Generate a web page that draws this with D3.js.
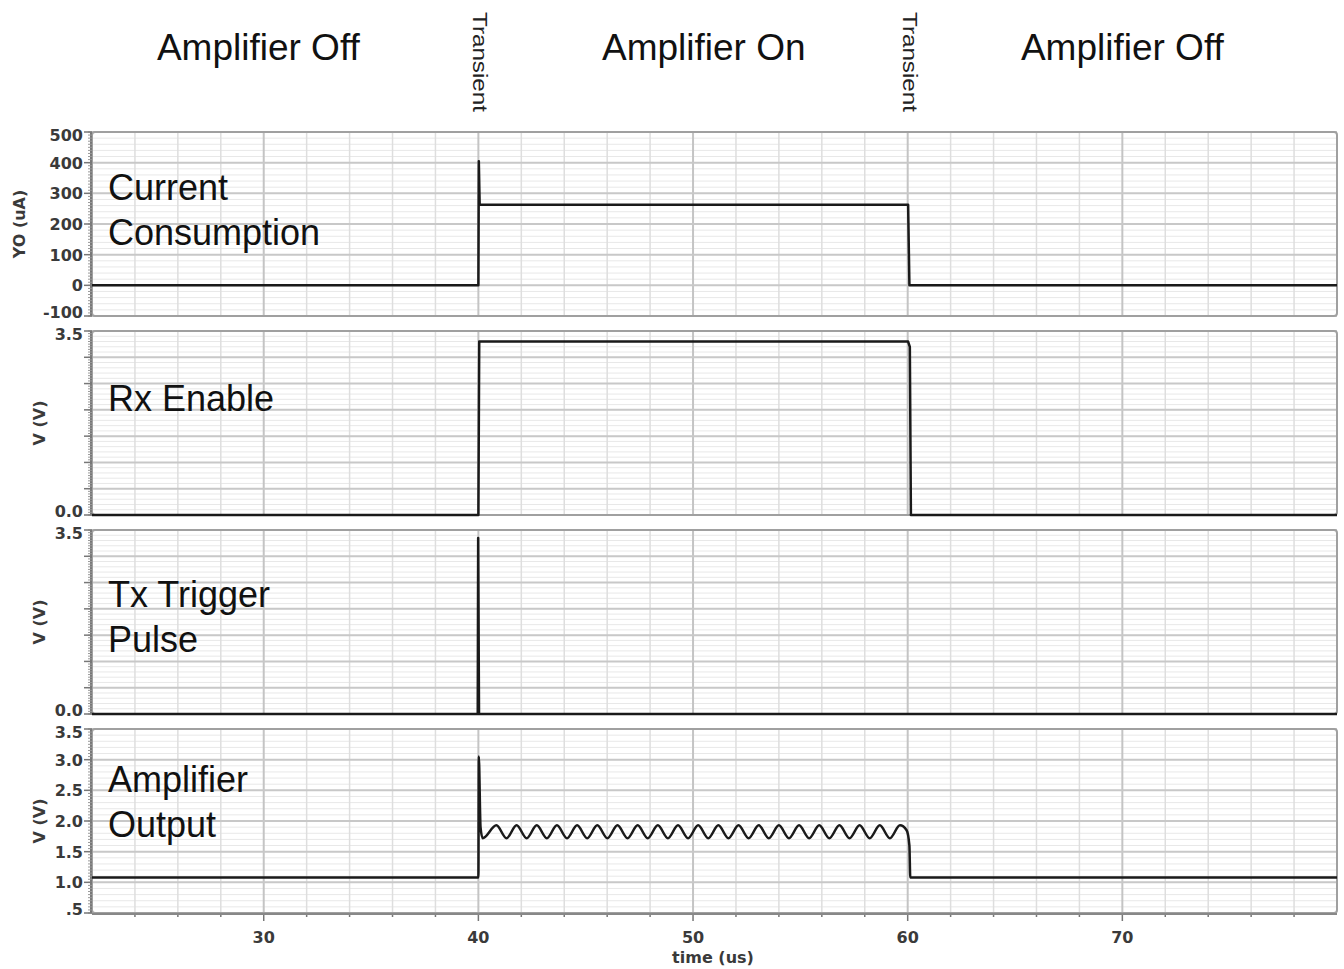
<!DOCTYPE html>
<html>
<head>
<script src="https://d3js.org/d3.v7.min.js"></script>
<style>
  body { margin: 0; background: #fff; }
  text { font-family: "Liberation Sans", Arial, sans-serif; }
  .tick-label { font-family: "DejaVu Sans", sans-serif; font-weight: bold; font-size: 16px; fill: #3a3a3a; }
</style>
</head>
<body>
<svg id="plot" width="1344" height="969"></svg>
<script>
// ---- data ----
const regionLabels = ["Amplifier Off", "Amplifier On", "Amplifier Off"];
const regionCenters = [29.75, 50.5, 70];       // time (us) where each label is centred
const transientTimes = [40, 60];
const xTicks = [30, 40, 50, 60, 70];

// current consumption (uA)
const currentData = [[22, 0], [40, 0], [40.02, 405], [40.06, 263], [60.02, 263], [60.08, 0], [80, 0]];
// Rx enable (V)
const rxData = [[22, 0], [40, 0], [40.04, 3.3], [60.02, 3.3], [60.1, 3.2], [60.15, 0], [80, 0]];
// Tx trigger pulse (V)
const txData = [[22, 0], [39.97, 0], [39.99, 3.35], [40.03, 0], [80, 0]];
// amplifier output (V)
const ampData = [
  [22, 1.08], [40.0, 1.08], [40.02, 3.05], [40.1, 1.9], [40.2, 1.72],
  [40.84, 1.93], [41.31, 1.72], [41.78, 1.93], [42.25, 1.72], [42.72, 1.93], [43.19, 1.72],
  [43.66, 1.93], [44.13, 1.72], [44.60, 1.93], [45.07, 1.72], [45.54, 1.93], [46.01, 1.72],
  [46.48, 1.93], [46.95, 1.72], [47.42, 1.93], [47.89, 1.72], [48.36, 1.93], [48.83, 1.72],
  [49.30, 1.93], [49.77, 1.72], [50.24, 1.93], [50.71, 1.72], [51.18, 1.93], [51.65, 1.72],
  [52.12, 1.93], [52.59, 1.72], [53.06, 1.93], [53.53, 1.72], [54.00, 1.93], [54.47, 1.72],
  [54.94, 1.93], [55.41, 1.72], [55.88, 1.93], [56.35, 1.72], [56.82, 1.93], [57.29, 1.72],
  [57.76, 1.93], [58.23, 1.72], [58.70, 1.93], [59.17, 1.72], [59.64, 1.93], [59.95, 1.85],
  [60.08, 1.6], [60.12, 1.08], [80, 1.08]
];

const panelLabels = [["Current", "Consumption"], ["Rx Enable"], ["Tx Trigger", "Pulse"], ["Amplifier", "Output"]];
const yTitles = ["YO (uA)", "V (V)", "V (V)", "V (V)"];
const yDomains = [[-100, 500], [0, 3.5], [0, 3.5], [0.5, 3.5]];
const yTickValues = [[-100, 0, 100, 200, 300, 400, 500], [0, 3.5], [0, 3.5], [0.5, 1, 1.5, 2, 2.5, 3, 3.5]];
const yTickText = [["-100", "0", "100", "200", "300", "400", "500"], ["0.0", "3.5"], ["0.0", "3.5"], [".5", "1.0", "1.5", "2.0", "2.5", "3.0", "3.5"]];
const yMajorStep = [100, 0.5, 0.5, 0.5];
const yMinorStep = [20, 0.1, 0.1, 0.1];
const series = [currentData, rxData, txData, ampData];

// ---- layout ----
const svg = d3.select('svg#plot');
const left = 92, right = 1337;
const panelTop = [132, 331, 530, 729];
const panelH = 184;

const x = d3.scaleLinear().domain([22, 80]).range([left, right]);

// top region labels
regionLabels.forEach((d, i) => {
  svg.append("text")
    .attr("x", x(regionCenters[i]))
    .attr("y", 60)
    .attr("text-anchor", "middle")
    .attr("font-size", "37px")
    .attr("fill", "#111")
    .text(d);
});
// transient labels (rotated)
transientTimes.forEach(t => {
  const tx = x(t) - 5;
  svg.append("text")
    .attr("transform", `translate(${tx},12) rotate(90)`)
    .attr("font-size", "21px")
    .attr("textLength", 100)
    .attr("lengthAdjust", "spacingAndGlyphs")
    .attr("fill", "#222")
    .text("Transient");
});

series.forEach((data, p) => {
  const top = panelTop[p], bottom = top + panelH;
  const y = d3.scaleLinear().domain(yDomains[p]).range([bottom, top]);
  const g = svg.append("g");

  // minor grid
  const minor = d3.range(yDomains[p][0], yDomains[p][1] + 1e-9, yMinorStep[p]);
  g.selectAll(".hminor").data(minor).join("line")
    .attr("x1", left).attr("x2", right)
    .attr("y1", d => y(d)).attr("y2", d => y(d))
    .attr("stroke", "#e8e8e8").attr("stroke-width", 1);
  const vminor = d3.range(24, 80, 2);
  g.selectAll(".vminor").data(vminor).join("line")
    .attr("x1", d => x(d)).attr("x2", d => x(d))
    .attr("y1", top).attr("y2", bottom)
    .attr("stroke", d => d % 10 === 0 ? "#c4c4c4" : "#dedede")
    .attr("stroke-width", d => d % 10 === 0 ? 2 : 1.5);
  // major horizontal grid
  const major = d3.range(yDomains[p][0], yDomains[p][1] + 1e-9, yMajorStep[p]);
  g.selectAll(".hmajor").data(major).join("line")
    .attr("x1", left).attr("x2", right)
    .attr("y1", d => y(d)).attr("y2", d => y(d))
    .attr("stroke", "#c8c8c8").attr("stroke-width", 2);

  // frame
  g.append("rect")
    .attr("x", left).attr("y", top)
    .attr("width", right - left).attr("height", panelH)
    .attr("rx", 3)
    .attr("fill", "none").attr("stroke", "#a0a0a0").attr("stroke-width", 2);

  // left axis with small ticks
  g.append("line")
    .attr("x1", left - 1).attr("x2", left - 1).attr("y1", top).attr("y2", bottom)
    .attr("stroke", "#777").attr("stroke-width", 2);
  const tinyStep = yMinorStep[p] / 2;
  g.selectAll(".tiny").data(d3.range(yDomains[p][0], yDomains[p][1] + 1e-9, tinyStep)).join("line")
    .attr("x1", left - 4).attr("x2", left)
    .attr("y1", d => y(d)).attr("y2", d => y(d))
    .attr("stroke", "#999").attr("stroke-width", 1);
  g.selectAll(".ytick").data(major).join("line")
    .attr("x1", left - 8).attr("x2", left)
    .attr("y1", d => y(d)).attr("y2", d => y(d))
    .attr("stroke", "#777").attr("stroke-width", 1.5);
  // edge labels nudged inwards so neighbouring panels' labels don't collide
  g.selectAll(".ylab").data(yTickValues[p]).join("text")
    .attr("class", "tick-label")
    .attr("x", left - 9)
    .attr("y", d => y(d) + 6 + (d === yDomains[p][0] ? -4 : d === yDomains[p][1] ? 3 : 0))
    .attr("text-anchor", "end")
    .text((d, i) => yTickText[p][i]);

  // y title
  g.append("text")
    .attr("class", "tick-label")
    .attr("transform", `translate(${p === 0 ? 25 : 45},${(top + bottom) / 2}) rotate(-90)`)
    .attr("text-anchor", "middle")
    .attr("font-size", "15px")
    .text(yTitles[p]);

  // panel annotation
  panelLabels[p].forEach((s, i) => {
    g.append("text")
      .attr("x", 108)
      .attr("y", [200, 411, 607, 792][p] + i * 45)
      .attr("font-size", "36px")
      .attr("fill", "#111")
      .text(s);
  });

  // waveform
  const line = d3.line()
    .x(d => x(d[0])).y(d => y(d[1]))
    .curve(p === 3 ? d3.curveMonotoneX : d3.curveLinear);
  g.append("path")
    .datum(data)
    .attr("d", line)
    .attr("fill", "none")
    .attr("stroke", "#1a1a1a")
    .attr("stroke-width", 2.5)
    .attr("stroke-linejoin", "round");
});

// bottom x axis
const bottomY = panelTop[3] + panelH;
svg.selectAll(".xt").data(d3.range(24, 80, 2)).join("line")
  .attr("x1", d => x(d)).attr("x2", d => x(d))
  .attr("y1", bottomY).attr("y2", d => bottomY + (d % 10 === 0 ? 8 : 4))
  .attr("stroke", "#777").attr("stroke-width", 1.5);
svg.append("line")
  .attr("x1", left).attr("x2", right).attr("y1", bottomY + 1).attr("y2", bottomY + 1)
  .attr("stroke", "#888").attr("stroke-width", 2);
svg.selectAll(".xl").data(xTicks).join("text")
  .attr("class", "tick-label")
  .attr("x", d => x(d))
  .attr("y", 943)
  .attr("text-anchor", "middle")
  .attr("font-size", "18px")
  .text(d => d);
svg.append("text")
  .attr("class", "tick-label")
  .attr("x", 713)
  .attr("y", 963)
  .attr("text-anchor", "middle")
  .attr("font-size", "17px")
  .text("time (us)");
</script>
</body>
</html>
